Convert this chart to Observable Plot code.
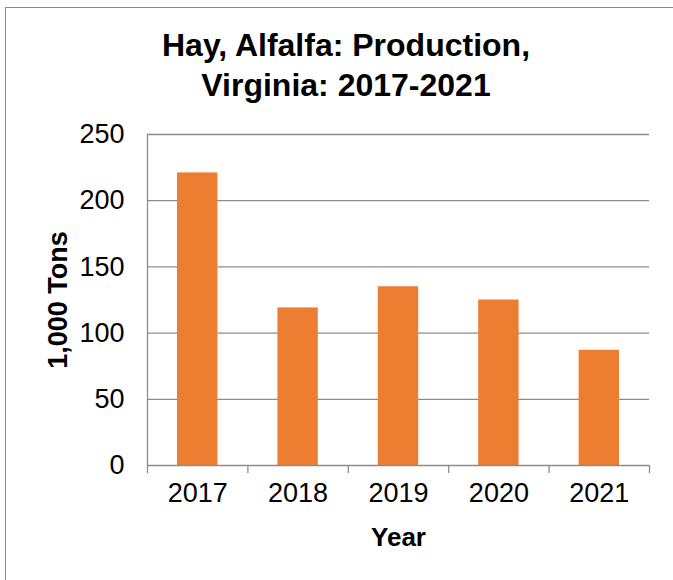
<!DOCTYPE html>
<html>
<head>
<meta charset="utf-8">
<script src="https://cdn.jsdelivr.net/npm/d3@7"></script>
<script src="https://cdn.jsdelivr.net/npm/@observablehq/plot@0.6"></script>
<style>
  html, body { margin: 0; padding: 0; background: #fff; }
  #wrap { position: relative; width: 673px; height: 580px; overflow: hidden; font-family: "Liberation Sans", Arial, sans-serif; }
  #frame { position: absolute; left: 5px; top: 7px; width: 1000px; height: 1000px; border-left: 1.5px solid #8a8a8a; border-top: 1.5px solid #8a8a8a; }
  #title { position: absolute; left: 0; top: 25px; width: 692px; text-align: center; font-weight: bold; font-size: 32px; line-height: 40px; color: #000; }
  #chart { position: absolute; left: 0; top: 110px; }
</style>
</head>
<body>
<div id="wrap">
  <div id="frame"></div>
  <div id="title">Hay, Alfalfa: Production,<br>Virginia: 2017-2021</div>
  <div id="chart"></div>
</div>
<script>
const years = [2017, 2018, 2019, 2020, 2021];
const production = [221, 119, 135, 125, 87];
const yTicks = [0, 50, 100, 150, 200, 250];
const yLabel = "1,000 Tons";
const xLabel = "Year";

const data = years.map((year, i) => ({year, value: production[i]}));
const boundaries = years.map(y => y - 0.5).concat([years[years.length - 1] + 0.5]);
const gray = "#8c8c8c";
const font = "'Liberation Sans', Arial, sans-serif";

const chart = Plot.plot({
  width: 673,
  height: 470,
  marginLeft: 147,
  marginRight: 24,
  marginTop: 24,
  marginBottom: 115,
  style: {fontFamily: font, fontSize: "27px", color: "#000", background: "transparent"},
  x: {type: "linear", domain: [boundaries[0], boundaries[boundaries.length - 1]]},
  y: {domain: [0, 250]},
  marks: [
    Plot.gridY(yTicks.filter(d => d > 0), {stroke: gray, strokeOpacity: 1, strokeWidth: 1.3}),
    Plot.rectY(data, {x1: d => d.year - 0.5, x2: d => d.year + 0.5, y: "value", fill: "#ED7D31", insetLeft: 30, insetRight: 30}),
    Plot.ruleY([0], {stroke: gray, strokeWidth: 1.3}),
    Plot.ruleX([boundaries[0]], {stroke: gray, strokeWidth: 1.3}),
    Plot.axisX(boundaries, {tickSize: 8, tickFormat: () => "", stroke: gray, strokeWidth: 1.3, label: null}),
    Plot.axisX(years, {tickSize: 0, tickPadding: 17, tickFormat: d => String(d), fontSize: 27, fill: "#000", label: null}),
    Plot.axisY(yTicks, {tickSize: 0, tickPadding: 23, fontSize: 27, fill: "#000", label: null}),
    Plot.text([xLabel], {frameAnchor: "bottom", dy: 80, fontWeight: "bold", fontSize: 26, fill: "#000"}),
    Plot.text([yLabel], {frameAnchor: "left", textAnchor: "middle", dx: -89, rotate: -90, fontWeight: "bold", fontSize: 27, fill: "#000"})
  ]
});
document.getElementById("chart").appendChild(chart);
</script>
</body>
</html>
